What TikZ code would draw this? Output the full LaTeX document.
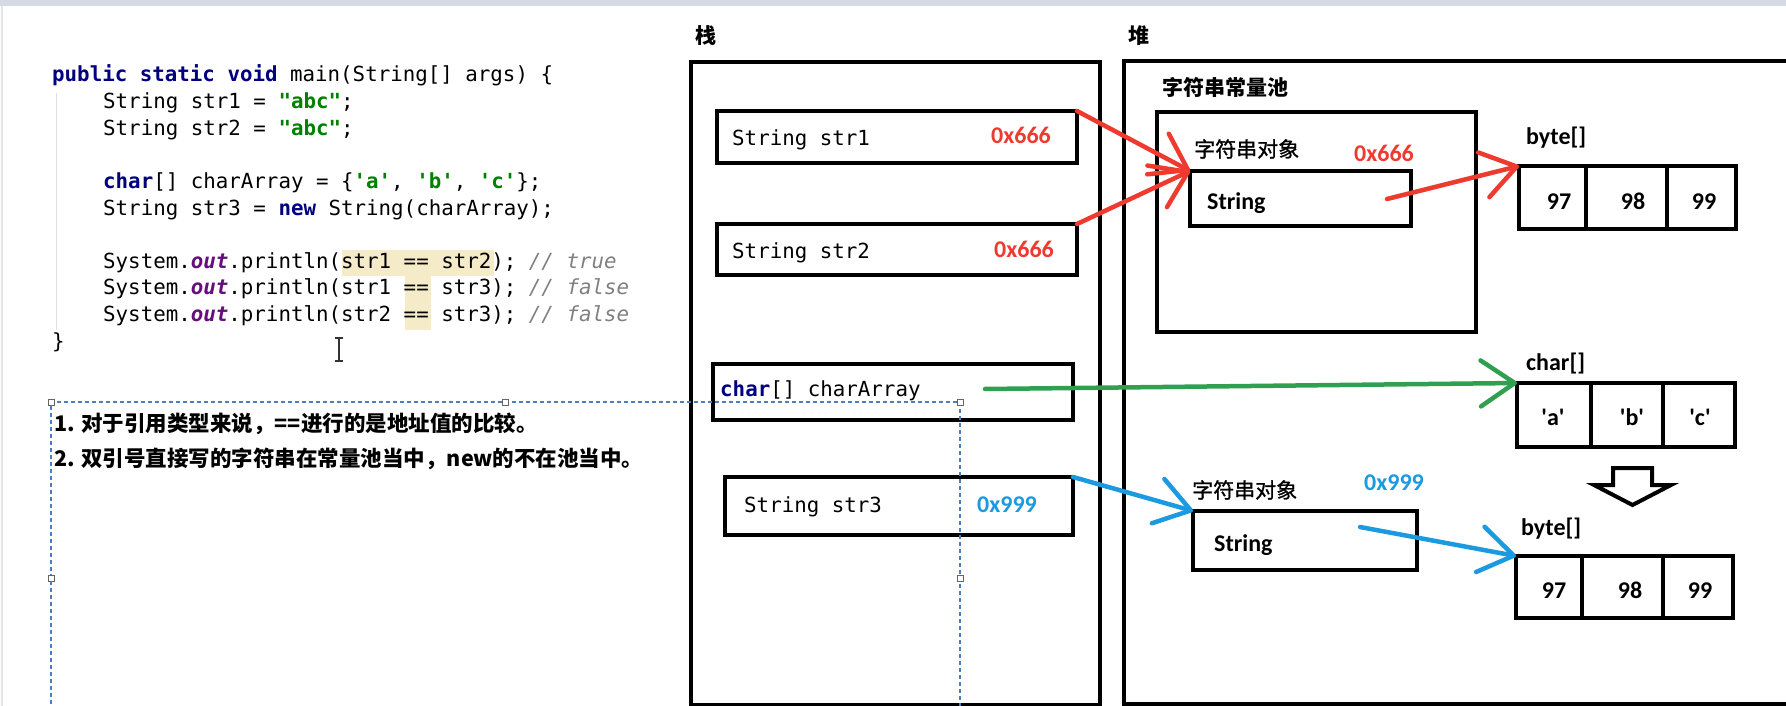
\documentclass[tikz,border=0pt]{standalone}
\usepackage{fontspec}
\setmainfont{Carlito}
\setmonofont{DejaVu Sans Mono}
\newfontfamily\cjk{Noto Sans CJK SC}
\newfontfamily\cjkmed{Noto Sans CJK SC}[FakeBold=1.2]
\usetikzlibrary{arrows.meta}

\definecolor{addrred}{HTML}{EE3A2F}
\definecolor{addrblue}{HTML}{1B9AE0}
\definecolor{refgreen}{HTML}{30A050}
\definecolor{kwnavy}{HTML}{000080}
\definecolor{strgreen}{HTML}{008000}
\definecolor{fieldpurple}{HTML}{660E7A}
\definecolor{cmtgray}{HTML}{808080}
\definecolor{hilite}{HTML}{F6EBC8}
\definecolor{selblue}{HTML}{4A7EC0}
\definecolor{topbar}{HTML}{D5DAE4}

\newcommand{\kw}[1]{\textcolor{kwnavy}{\bfseries #1}}
\newcommand{\lit}[1]{\textcolor{strgreen}{\bfseries #1}}
\newcommand{\fld}[1]{\textcolor{fieldpurple}{\bfseries\itshape #1}}
\newcommand{\cmt}[1]{\textcolor{cmtgray}{\itshape #1}}
\newcommand{\sq}{\textquotesingle}

\begin{document}
\begin{tikzpicture}[x=1pt,y=-1pt,
  code/.style={font=\ttfamily\fontsize{20.8}{24}\selectfont, inner sep=0, anchor=base west},
  addr/.style={font=\bfseries\fontsize{24}{28}\selectfont, inner sep=0, anchor=base west},
  tag/.style={font=\bfseries\fontsize{24}{28}\selectfont, inner sep=0, anchor=base west},
  cell/.style={font=\bfseries\fontsize{24}{28}\selectfont, inner sep=0, anchor=base},
  zh/.style={font=\cjkmed\fontsize{21}{25}\selectfont, inner sep=0, anchor=base west},
  zhb/.style={font=\cjk\bfseries\fontsize{21}{25}\selectfont, inner sep=0, anchor=base west},
  note/.style={font=\cjk\bfseries\fontsize{21.5}{25}\selectfont, inner sep=0, anchor=base west},
  frame/.style={draw, line width=4pt, inner sep=0, outer sep=0},
  ref/.style={line width=4.5pt, line cap=round,
    -{Straight Barb[length=34pt,width=46pt,round]}},
  handle/.style={draw=black!60, fill=white, line width=0.8pt, minimum size=6pt, inner sep=0},
  sel/.style={draw=selblue, line width=1.5pt, dash pattern=on 4pt off 3pt}
]
\useasboundingbox (0,0) rectangle (1786,706);
\clip (0,0) rectangle (1786,706);

% window chrome
\fill[topbar] (0,0) rectangle (1786,6);
\draw[topbar!70, line width=2pt] (1.5,6) -- (1.5,706);

% editor: highlighted == occurrences
\fill[hilite] (342,249.7) rectangle (494,276.3);
\fill[hilite] (405,276.3) rectangle (431,329.5);
\draw[black!12, line width=1pt] (56,93) -- (56,330);

\node[code] (c1)  at (52,82)    {\kw{public} \kw{static} \kw{void} main(String[] args) \{};
\node[code] (c2)  at (103,108.6) {String str1 = \lit{"abc"};};
\node[code] (c3)  at (103,135.2) {String str2 = \lit{"abc"};};
\node[code] (c5)  at (103,188.4) {\kw{char}[] charArray = \{\lit{\sq a\sq}, \lit{\sq b\sq}, \lit{\sq c\sq}\};};
\node[code] (c6)  at (103,215)   {String str3 = \kw{new} String(charArray);};
\node[code] (c8)  at (103,268.2) {System.\fld{out}.println(str1 == str2); \cmt{// true}};
\node[code] (c9)  at (103,294.8) {System.\fld{out}.println(str1 == str3); \cmt{// false}};
\node[code] (c10) at (103,321.4) {System.\fld{out}.println(str2 == str3); \cmt{// false}};
\node[code] (c11) at (52,348)    {\}};

% text cursor
\draw[black!80, line width=1.1pt] (335,338) -- (343,338) (339,338) -- (339,361) (335,361) -- (343,361);

% notes
\node[note] (n1) at (54,431) {1. 对于引用类型来说，==进行的是地址值的比较。};
\node[note] (n2) at (54,466) {2. 双引号直接写的字符串在常量池当中，new的不在池当中。};

% stack
\node[zhb] (stacklbl) at (695,44) {栈};
\node[frame, minimum width=409pt, minimum height=643pt] (stack) at (895.5,383.5) {};
\node[frame, minimum width=360pt, minimum height=52pt] (str1) at (897,137) {};
\node[frame, minimum width=360pt, minimum height=51pt] (str2) at (897,249.5) {};
\node[frame, minimum width=360pt, minimum height=56pt] (charv) at (893,392) {};
\node[frame, minimum width=348pt, minimum height=58pt] (str3) at (899,506) {};

\node[code] (t1) at (732,146) {String str1};
\node[addr, text=addrred] (a1) at (991,143) {0x666};
\node[code] (t2) at (732,258) {String str2};
\node[addr, text=addrred] (a2) at (994,257) {0x666};
\node[code] (t3) at (720,396) {\kw{char}[] charArray};
\node[code] (t4) at (744,512) {String str3};
\node[addr, text=addrblue] (a3) at (977,512) {0x999};

% heap
\node[zhb] (heaplbl) at (1128,44) {堆};
\node[frame, minimum width=676pt, minimum height=643pt] (heap) at (1462,382.5) {};
\node[zhb] (poollbl) at (1162,96) {字符串常量池};
\node[frame, minimum width=319pt, minimum height=220pt] (pool) at (1316.5,222) {};

\node[zh] (o1lbl) at (1194,157) {字符串对象};
\node[addr, text=addrred] (o1addr) at (1354,161) {0x666};
\node[frame, minimum width=221pt, minimum height=55pt] (sobj1) at (1300.5,198.5) {};
\node[tag] (o1txt) at (1207,209) {String};

\node[tag] (b1lbl) at (1526,145) {byte[]};
\node[frame, minimum width=67pt, minimum height=63pt] (b1a) at (1552.5,197.5) {};
\node[frame, minimum width=81pt, minimum height=63pt] (b1b) at (1626.5,197.5) {};
\node[frame, minimum width=69pt, minimum height=63pt] (b1c) at (1701.5,197.5) {};
\node[cell] (v11) at (1559,209) {97};
\node[cell] (v12) at (1633,209) {98};
\node[cell] (v13) at (1704,209) {99};

\node[tag] (calbl) at (1526,370) {char[]};
\node[frame, minimum width=74pt, minimum height=64pt] (ca) at (1554,415) {};
\node[frame, minimum width=72pt, minimum height=64pt] (cb) at (1627,415) {};
\node[frame, minimum width=72pt, minimum height=64pt] (cc) at (1699,415) {};
\node[cell] (va) at (1553,425) {\sq a\sq};
\node[cell] (vb) at (1632,425) {\sq b\sq};
\node[cell] (vc) at (1700,425) {\sq c\sq};

% char[] is copied into a new byte[]
\draw[line width=4pt, line join=miter, fill=white]
  (1613,468) -- (1652,468) -- (1652,485) -- (1671,485) -- (1632.5,505)
  -- (1594,485) -- (1613,485) -- cycle;

\node[zh] (o2lbl) at (1192,498) {字符串对象};
\node[addr, text=addrblue] (o2addr) at (1364,490) {0x999};
\node[frame, minimum width=224pt, minimum height=59pt] (sobj2) at (1305,540.5) {};
\node[tag] (o2txt) at (1214,551) {String};

\node[tag] (b2lbl) at (1521,535) {byte[]};
\node[frame, minimum width=66pt, minimum height=62pt] (b2a) at (1549,587) {};
\node[frame, minimum width=81pt, minimum height=62pt] (b2b) at (1622.5,587) {};
\node[frame, minimum width=70pt, minimum height=62pt] (b2c) at (1698,587) {};
\node[cell] (v21) at (1554,598) {97};
\node[cell] (v22) at (1630,598) {98};
\node[cell] (v23) at (1700,598) {99};

% references
\coordinate (s1ptr) at (1387,199);
\coordinate (captr) at (985,389);
\coordinate (s2ptr) at (1360,527);
\draw[ref, addrred] (str1.north east) -- (sobj1.north west);
\draw[ref, addrred] (str2.north east) -- (sobj1.north west);
\draw[ref, addrred] (s1ptr) -- (b1a.north west);
\draw[ref, refgreen] (captr) -- (ca.north west);
\draw[ref, addrblue] (str3.north east) -- (sobj2.north west);
\draw[ref, addrblue] (s2ptr) -- (b2a.north west);

% selection frame around the notes
\draw[sel] (51,760) -- (51,402) -- (960,402) -- (960,760);
\node[handle] (h1) at (51,402) {};
\node[handle] (h2) at (505.5,402) {};
\node[handle] (h3) at (960,402) {};
\node[handle] (h4) at (51,578) {};
\node[handle] (h5) at (960,578) {};
\end{tikzpicture}
\end{document}
